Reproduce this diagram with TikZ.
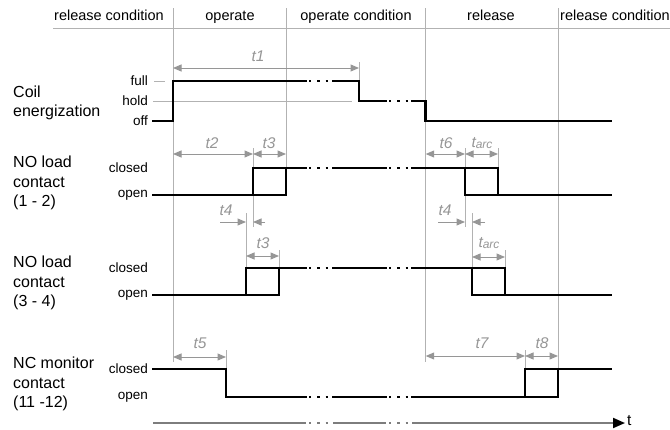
\documentclass[tikz,border=0pt]{standalone}
\usepackage{fontspec}
\setmainfont{Liberation Sans}
\usetikzlibrary{arrows.meta}

\definecolor{dimc}{RGB}{150,150,150}
\definecolor{gridc}{RGB}{178,178,178}
\definecolor{axisc}{RGB}{125,125,125}

\begin{document}
\begin{tikzpicture}[
    x=1pt, y=-1pt,
    every node/.style={font=\fontsize{13.5}{16}\selectfont, inner sep=1pt},
    hdr/.style={font=\fontsize{14.5}{17}\selectfont, anchor=base},
    side/.style={font=\fontsize{16}{19.5}\selectfont, align=left, anchor=west},
    lvl/.style={anchor=east},
    tm/.style={font=\fontsize{15.5}{18}\selectfont\itshape, text=dimc},
    gridline/.style={draw=gridc, line width=0.9pt},
    sig/.style={line width=2.5pt, line cap=rect},
    dots/.style={line width=2.5pt, line cap=butt, dash pattern=on 2.2pt off 6.1pt},
    dim/.style={draw=dimc, line width=1pt, {Triangle[length=8.5pt,width=7pt]}-{Triangle[length=8.5pt,width=7pt]}},
    onedim/.style={draw=dimc, line width=1pt, -{Triangle[length=8.5pt,width=7pt]}}
]
\useasboundingbox (0,0) rectangle (670,429);

% Phase header
\draw[gridline] (53,28) -- (670,28);
\node[hdr] (h1) at (109,20.7) {release condition};
\node[hdr] (h2) at (230,20.7) {operate};
\node[hdr] (h3) at (356,20.7) {operate condition};
\node[hdr] (h4) at (491,20.7) {release};
\node[hdr] (h5) at (615,20.7) {release condition};

% Phase borders
\draw[gridline] (173,8) -- (173,362);
\draw[gridline] (286,8) -- (286,195);
\draw[gridline] (425.7,8) -- (425.7,362);
\draw[gridline] (558,8) -- (558,397);

% Level marks of the coil
\draw[gridline] (154,81) -- (165,81);
\draw[gridline] (153,101) -- (352,101);

% Guide lines for the times
\draw[gridline] (359,62) -- (359,81);
\draw[gridline] (253,148) -- (253,227);
\draw[gridline] (246,213) -- (246,268);
\draw[gridline] (279,250) -- (279,268);
\draw[gridline] (226,350) -- (226,369);
\draw[gridline] (465,148) -- (465,227);
\draw[gridline] (472,213) -- (472,268);
\draw[gridline] (498,148) -- (498,168);
\draw[gridline] (505,250) -- (505,268);
\draw[gridline] (525,350) -- (525,369);

% Signal names
\node[side] (coil) at (12,103) {Coil\\energization};
\node[side] (no12) at (12,183) {NO load\\contact\\(1 - 2)};
\node[side] (no34) at (12,283) {NO load\\contact\\(3 - 4)};
\node[side] (nc) at (12,384) {NC monitor\\contact\\(11 -12)};

% Levels
\node[lvl] (full) at (149,81) {full};
\node[lvl] (hold) at (149,101) {hold};
\node[lvl] (off) at (149,121) {off};
\node[lvl] (c12) at (149,168) {closed};
\node[lvl] (o12) at (149,195) {open};
\node[lvl] (c34) at (149,268) {closed};
\node[lvl] (o34) at (149,295) {open};
\node[lvl] (cnc) at (149,369) {closed};
\node[lvl] (onc) at (149,397) {open};

% Coil energization
\draw[sig] (153,121) -- (173,121) -- (173,81) -- (306,81);
\draw[sig] (333,81) -- (359,81) -- (359,101) -- (386,101);
\draw[sig] (412,101) -- (425.7,101) -- (425.7,121) -- (611,121);
\draw[dots] (309,81) -- (328,81);
\draw[dots] (389,101) -- (408,101);

% NO load contact (1 - 2)
\draw[sig] (153,195) -- (286,195) -- (286,168);
\draw[sig] (253,195) -- (253,168) -- (306,168);
\draw[sig] (333,168) -- (386,168);
\draw[sig] (412,168) -- (498,168) -- (498,195);
\draw[sig] (465,168) -- (465,195) -- (611,195);

% NO load contact (3 - 4)
\draw[sig] (153,295) -- (279,295) -- (279,268);
\draw[sig] (246,295) -- (246,268) -- (306,268);
\draw[sig] (333,268) -- (386,268);
\draw[sig] (412,268) -- (505,268) -- (505,295);
\draw[sig] (472,268) -- (472,295) -- (611,295);

% NC monitor contact (11 -12)
\draw[sig] (153,369) -- (226,369) -- (226,397) -- (306,397);
\draw[sig] (333,397) -- (386,397);
\draw[sig] (412,397) -- (558,397) -- (558,369);
\draw[sig] (525,397) -- (525,369) -- (611,369);

\foreach \y in {168,268,397} {
    \draw[dots] (309,\y) -- (328,\y);
    \draw[dots] (389,\y) -- (408,\y);
}

% Time axis
\draw[axisc, line width=2pt] (153,423) -- (306,423);
\draw[axisc, line width=2pt] (333,423) -- (386,423);
\draw[axisc, line width=2pt, -{Triangle[length=12pt,width=10pt,color=black]}] (412,423) -- (625,423);
\draw[axisc, dots, line width=2pt] (309,423) -- (328,423);
\draw[axisc, dots, line width=2pt] (389,423) -- (408,423);
\node[anchor=base west, inner sep=0pt, font=\fontsize{15.5}{18}\selectfont] (tax) at (627,425) {t};

% Times
\draw[dim] (173,68) -- (359,68);
\node[tm] (t1) at (258,56) {t1};
\draw[dim] (173,154) -- (253,154);
\node[tm] (t2) at (212,143) {t2};
\draw[dim] (253,154) -- (286,154);
\node[tm] (t3a) at (269,143) {t3};
\draw[onedim] (220,222) -- (246,222);
\draw[onedim] (265,222) -- (253,222);
\node[tm] (t4a) at (226,210) {t4};
\draw[dim] (246,256) -- (279,256);
\node[tm] (t3b) at (263,243) {t3};
\draw[dim] (173,357) -- (226,357);
\node[tm] (t5) at (200,343) {t5};
\draw[dim] (425.7,154) -- (465,154);
\node[tm] (t6) at (446,143) {t6};
\draw[dim] (465,154) -- (498,154);
\node[tm] (tarca) at (482,143) {t\raisebox{-1.5pt}{\fontsize{12}{12}\selectfont arc}};
\draw[onedim] (438,222) -- (465,222);
\draw[onedim] (485,222) -- (472,222);
\node[tm] (t4b) at (445,210) {t4};
\draw[dim] (472,257) -- (505,257);
\node[tm] (tarcb) at (489,243) {t\raisebox{-1.5pt}{\fontsize{12}{12}\selectfont arc}};
\draw[dim] (425.7,356) -- (525,356);
\node[tm] (t7) at (482,343) {t7};
\draw[dim] (525,356) -- (558,356);
\node[tm] (t8) at (542,343) {t8};

\end{tikzpicture}
\end{document}
